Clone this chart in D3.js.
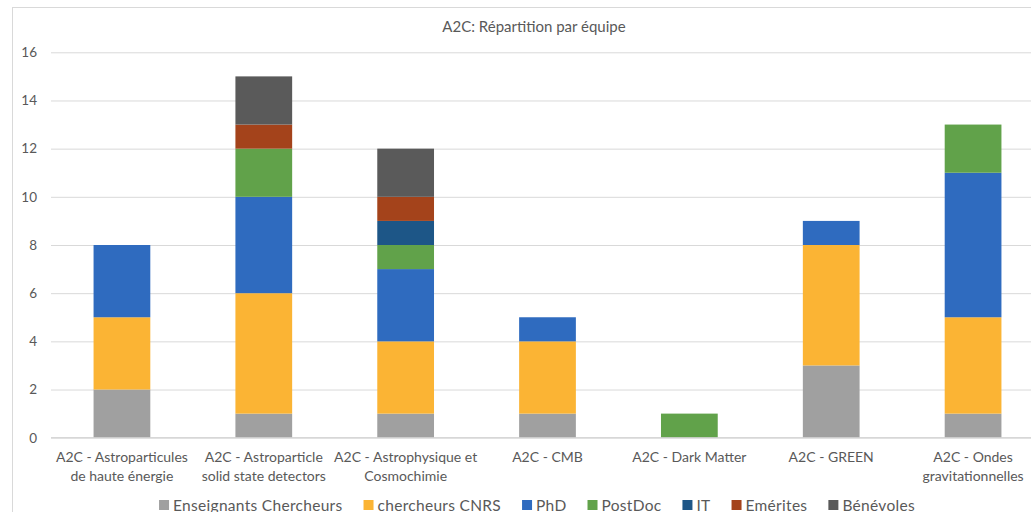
<!DOCTYPE html>
<html>
<head>
<meta charset="utf-8">
<script src="https://cdn.jsdelivr.net/npm/d3@7"></script>
<style>
  html, body { margin: 0; padding: 0; background: #fff; }
  svg { display: block; font-family: Lato, "Open Sans", sans-serif; }
</style>
</head>
<body>
<svg id="chart" width="1031" height="512"></svg>
<script>
// Teams (x categories), wrapped as in the axis labels
const categories = [
  "A2C - Astroparticules\nde haute énergie",
  "A2C - Astroparticle\nsolid state detectors",
  "A2C - Astrophysique et\nCosmochimie",
  "A2C - CMB",
  "A2C - Dark Matter",
  "A2C - GREEN",
  "A2C - Ondes\ngravitationnelles"
];

// Head counts per staff category, one value per team
const enseignantsChercheurs = [2, 1, 1, 1, 0, 3, 1];
const chercheursCNRS        = [3, 5, 3, 3, 0, 5, 4];
const phd                   = [3, 4, 3, 1, 0, 1, 6];
const postDoc               = [0, 2, 1, 0, 1, 0, 2];
const it                    = [0, 0, 1, 0, 0, 0, 0];
const emerites              = [0, 1, 1, 0, 0, 0, 0];
const benevoles             = [0, 2, 2, 0, 0, 0, 0];

const seriesNames = ["Enseignants Chercheurs", "chercheurs CNRS", "PhD", "PostDoc", "IT", "Emérites", "Bénévoles"];
const seriesValues = [enseignantsChercheurs, chercheursCNRS, phd, postDoc, it, emerites, benevoles];
const seriesColors = ["#a0a0a0", "#fbb434", "#2f6bbf", "#61a24a", "#1d5687", "#a4431b", "#5a5a5a"];

const yTicks = [0, 2, 4, 6, 8, 10, 12, 14, 16];
const title = "A2C: Répartition par équipe";

const svg = d3.select("#chart");
const textColor = "#595959";
const gridColor = "#d9d9d9";

// chart frame
svg.append("rect")
  .attr("x", 12.5).attr("y", 7.5)
  .attr("width", 1100).attr("height", 600)
  .attr("fill", "none").attr("stroke", "#d9d9d9");

// rows for d3.stack
const rows = categories.map((c, i) => {
  const r = { cat: c };
  seriesNames.forEach((s, k) => r[s] = seriesValues[k][i]);
  return r;
});
const stacked = d3.stack().keys(seriesNames)(rows);

const x = d3.scaleBand()
  .domain(categories)
  .range([51, 1044])
  .paddingInner(0.6)
  .paddingOuter(0.3);

const y = d3.scaleLinear().domain([0, 16]).range([437.7, 52.3]);

// gridlines + y labels
const yAxis = d3.axisLeft(y).tickValues(yTicks).tickSize(-(1044 - 51)).tickPadding(14);
const gy = svg.append("g").attr("transform", "translate(51,0)").call(yAxis);
gy.select(".domain").remove();
gy.selectAll(".tick line").attr("stroke", gridColor).attr("stroke-width", 1);
gy.selectAll(".tick text")
  .attr("fill", textColor)
  .attr("font-size", 13.5)
  .attr("font-family", "Lato, 'Open Sans', sans-serif");

// bars
svg.append("g").selectAll("g")
  .data(stacked)
  .join("g")
  .attr("fill", (d, i) => seriesColors[i])
  .selectAll("rect")
  .data(d => d.filter(p => p[1] - p[0] > 0))
  .join("rect")
  .attr("x", d => x(d.data.cat))
  .attr("width", x.bandwidth())
  .attr("y", d => y(d[1]))
  .attr("height", d => y(d[0]) - y(d[1]));

// zero axis line
svg.append("line")
  .attr("x1", 51).attr("x2", 1044)
  .attr("y1", y(0)).attr("y2", y(0))
  .attr("stroke", "#d0d0d0").attr("stroke-width", 1);

// x axis labels
const gx = svg.append("g");
categories.forEach(c => {
  const t = gx.append("text")
    .attr("x", x(c) + x.bandwidth() / 2)
    .attr("y", 462)
    .attr("text-anchor", "middle")
    .attr("fill", textColor)
    .attr("font-size", 14);
  c.split("\n").forEach((line, j) => {
    t.append("tspan")
      .attr("x", x(c) + x.bandwidth() / 2)
      .attr("dy", j === 0 ? 0 : 19)
      .text(line);
  });
});

// title
svg.append("text")
  .attr("x", 534).attr("y", 32)
  .attr("text-anchor", "middle")
  .attr("fill", textColor)
  .attr("font-size", 15)
  .text(title);

// legend, centred under the plot
const legend = svg.append("g");
let lx = 0;
seriesNames.forEach((name, i) => {
  const g = legend.append("g").attr("transform", `translate(${lx},0)`);
  g.append("rect").attr("x", 0).attr("y", -5).attr("width", 10).attr("height", 10).attr("fill", seriesColors[i]);
  const t = g.append("text")
    .attr("x", 14).attr("y", 5.5)
    .attr("fill", textColor)
    .attr("font-size", 15.5)
    .attr("letter-spacing", 0.3)
    .text(name);
  lx += 14 + t.node().getComputedTextLength() + 21;
});
const legendWidth = lx - 21;
legend.attr("transform", `translate(${537 - legendWidth / 2},505)`);
</script>
</body>
</html>
